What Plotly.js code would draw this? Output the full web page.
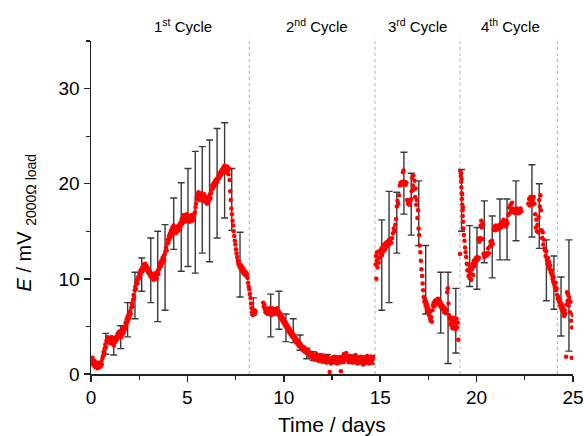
<!DOCTYPE html>
<html>
<head>
<meta charset="utf-8">
<script src="https://cdn.plot.ly/plotly-3.0.1.min.js"></script>
<style>html,body{margin:0;padding:0;background:#fff;}#chart{width:584px;height:436px;}</style>
</head>
<body>
<div id="chart"></div>
<script>
// ---- Data ----
const cycle1T = [0.02,0.05,0.08,0.11,0.14,0.17,0.20,0.23,0.26,0.29,0.32,0.35,0.38,0.41,0.44,0.47,0.50,0.53,0.56,0.59,0.62,0.65,0.68,0.71,0.74,0.77,0.80,0.83,0.86,0.89,0.92,0.95,0.98,1.01,1.04,1.07,1.10,1.13,1.16,1.19,1.22,1.25,1.28,1.31,1.34,1.37,1.40,1.43,1.46,1.49,1.52,1.55,1.58,1.61,1.64,1.67,1.70,1.73,1.76,1.79,1.82,1.85,1.88,1.91,1.94,1.97,2.00,2.03,2.06,2.09,2.12,2.15,2.18,2.21,2.24,2.27,2.30,2.33,2.36,2.39,2.42,2.45,2.48,2.51,2.54,2.57,2.60,2.63,2.66,2.69,2.72,2.75,2.78,2.81,2.84,2.87,2.90,2.93,2.96,2.99,3.02,3.05,3.08,3.11,3.14,3.17,3.20,3.23,3.26,3.29,3.32,3.35,3.38,3.41,3.44,3.47,3.50,3.53,3.56,3.59,3.62,3.65,3.68,3.71,3.74,3.77,3.80,3.83,3.86,3.89,3.92,3.95,3.98,4.01,4.04,4.07,4.10,4.13,4.16,4.19,4.22,4.25,4.28,4.31,4.34,4.37,4.40,4.43,4.46,4.49,4.52,4.55,4.58,4.61,4.64,4.67,4.70,4.73,4.76,4.79,4.82,4.85,4.88,4.91,4.94,4.97,5.00,5.03,5.06,5.09,5.12,5.15,5.18,5.21,5.24,5.27,5.30,5.33,5.36,5.39,5.42,5.45,5.48,5.51,5.54,5.57,5.60,5.63,5.66,5.69,5.72,5.75,5.78,5.81,5.84,5.87,5.90,5.93,5.96,5.99,6.02,6.05,6.08,6.11,6.14,6.17,6.20,6.23,6.26,6.29,6.32,6.35,6.38,6.41,6.44,6.47,6.50,6.53,6.56,6.59,6.62,6.65,6.68,6.71,6.74,6.77,6.80,6.83,6.86,6.89,6.92,6.95,6.98,7.01,7.04,7.07,7.10,7.13,7.16,7.19,7.22,7.25,7.28,7.31,7.34,7.37,7.40,7.43,7.46,7.49,7.52,7.55,7.58,7.61,7.64,7.67,7.70,7.73,7.76,7.79,7.82,7.85,7.88,7.91,7.94,7.97,8.00,8.03,8.06,8.09,8.12,8.15,8.18,8.21,8.24,8.27,8.30,8.33,8.36,8.39,8.42,8.45,8.48,8.51,8.54];
const cycle1E = [1.5,1.1,1.7,1.2,0.9,1.4,1.0,0.7,1.1,0.8,1.2,0.6,0.9,1.0,0.7,1.1,0.8,1.3,1.0,1.6,1.9,2.3,2.0,2.7,3.1,2.8,3.5,3.9,3.4,3.7,3.3,3.8,3.5,3.2,3.6,3.9,3.4,3.7,3.3,3.0,3.5,3.8,3.4,3.9,3.6,4.2,3.8,4.4,4.0,4.5,4.1,4.3,3.9,4.6,4.2,4.8,4.4,5.0,4.7,5.4,5.0,5.8,5.4,6.1,5.7,6.4,6.0,6.6,6.3,7.0,7.4,7.1,7.8,8.3,8.0,8.8,9.2,8.9,9.6,9.9,9.5,10.2,10.0,10.6,10.3,10.9,10.6,11.1,10.8,11.3,11.0,11.5,11.2,11.6,11.1,11.4,10.9,11.2,10.7,11.0,10.5,10.8,10.3,10.6,10.1,10.4,10.0,10.3,9.9,10.2,10.6,10.1,10.4,10.0,10.6,10.9,10.5,11.0,11.4,11.7,11.3,11.9,11.6,12.2,11.8,12.4,12.0,12.6,12.9,13.3,13.0,13.7,14.1,13.8,14.5,14.2,14.8,14.4,15.1,14.7,15.4,15.0,15.6,15.2,14.9,15.3,14.8,15.1,15.5,15.0,15.4,15.1,15.7,15.3,15.9,15.6,16.2,15.8,16.5,16.1,16.7,16.3,16.0,16.6,16.2,16.8,16.4,16.1,16.6,16.3,16.0,16.5,16.2,16.7,16.4,16.1,16.6,16.3,16.8,17.0,17.5,17.9,18.4,18.9,18.5,19.1,18.7,18.3,18.8,18.4,19.0,18.6,18.2,18.7,18.3,18.9,18.5,18.1,18.6,18.2,17.9,18.4,18.0,18.6,18.3,18.9,18.5,19.0,19.4,19.8,19.5,20.0,19.7,20.2,19.9,20.4,20.1,20.5,20.2,20.6,20.9,20.6,21.1,20.8,21.3,21.0,21.5,21.2,21.7,21.4,21.9,21.5,21.2,21.7,21.3,21.8,21.4,21.0,21.6,20.4,19.2,18.3,17.4,16.8,16.1,15.6,15.0,14.5,14.0,13.6,13.1,12.7,12.3,11.9,11.6,11.8,11.3,11.5,11.1,11.4,10.9,11.2,10.7,11.0,10.5,10.8,10.4,10.7,10.3,10.5,10.1,9.6,9.2,8.9,8.4,8.0,7.4,6.9,6.5,6.2,6.6,6.3,6.7,6.4,6.6];

const cycle2T = [8.93,8.96,8.99,9.02,9.05,9.08,9.11,9.14,9.17,9.20,9.23,9.26,9.29,9.32,9.35,9.38,9.41,9.44,9.47,9.50,9.53,9.56,9.59,9.62,9.65,9.68,9.71,9.74,9.77,9.80,9.83,9.86,9.89,9.92,9.95,9.98,10.01,10.04,10.07,10.10,10.13,10.16,10.19,10.22,10.25,10.28,10.31,10.34,10.37,10.40,10.43,10.46,10.49,10.52,10.55,10.58,10.61,10.64,10.67,10.70,10.73,10.76,10.79,10.82,10.85,10.88,10.91,10.94,10.97,11.00,11.03,11.06,11.09,11.12,11.15,11.18,11.21,11.24,11.27,11.30,11.33,11.36,11.39,11.42,11.45,11.48,11.51,11.54,11.57,11.60,11.64,11.68,11.72,11.76,11.80,11.84,11.88,11.92,11.96,12.00,12.04,12.08,12.12,12.16,12.20,12.24,12.28,12.32,12.38,12.40,12.44,12.48,12.52,12.56,12.60,12.64,12.68,12.72,12.76,12.80,12.84,12.88,12.92,12.96,13.00,13.04,13.08,13.12,13.16,13.20,13.24,13.28,13.32,13.36,13.40,13.44,13.48,13.52,13.56,13.60,13.64,13.68,13.72,13.76,13.80,13.84,13.88,13.92,13.96,14.00,14.04,14.08,14.12,14.16,14.20,14.24,14.28,14.32,14.36,14.40,14.44,14.48,14.52,14.56,14.60,14.63];
const cycle2E = [7.5,7.1,7.3,6.8,6.5,6.9,6.4,6.7,6.3,6.8,6.5,6.9,6.4,6.7,6.2,6.6,6.9,6.5,6.8,6.3,6.7,6.4,6.8,6.5,6.9,6.3,6.6,6.2,6.5,6.0,6.3,5.8,6.1,5.6,5.9,5.4,5.7,5.2,5.5,5.0,5.3,4.8,5.1,4.6,4.9,4.4,4.7,4.2,4.5,4.0,4.3,3.9,4.2,3.7,4.0,3.6,3.8,3.3,3.6,3.2,3.5,3.0,3.3,2.9,3.2,2.8,3.0,2.6,2.9,2.5,2.8,2.4,2.7,2.3,2.6,2.2,2.5,2.1,2.4,2.0,2.3,1.9,2.2,1.8,2.1,1.7,2.0,1.6,1.9,1.5,1.8,2.1,1.6,1.9,1.4,1.7,2.0,1.5,1.8,1.3,1.6,1.9,1.4,1.7,1.2,1.5,1.8,1.3,0.2,1.6,1.1,1.4,1.7,1.2,1.5,1.8,1.3,1.6,1.1,1.4,1.7,1.2,1.5,0.3,1.8,1.3,1.6,2.1,1.4,1.7,2.2,1.5,1.8,1.3,1.6,1.9,1.4,1.7,1.2,1.5,1.8,1.3,2.0,1.6,1.1,1.4,1.7,1.2,1.5,1.8,1.3,1.6,1.0,1.4,1.7,1.2,1.5,1.9,1.3,1.6,1.1,1.4,1.8,1.2,1.5,1.7];

const cycle3T = [14.76,14.78,14.80,14.82,14.84,14.86,14.89,14.92,14.95,14.98,15.02,15.06,15.10,15.14,15.18,15.22,15.26,15.30,15.34,15.38,15.42,15.46,15.50,15.54,15.58,15.62,15.66,15.70,15.74,15.78,15.82,15.86,15.90,15.94,15.98,16.02,16.06,16.10,16.14,16.18,16.21,16.24,16.28,16.32,16.36,16.40,16.44,16.48,16.52,16.56,16.60,16.63,16.66,16.69,16.72,16.75,16.78,16.81,16.84,16.87,16.90,16.93,16.96,16.99,17.02,17.05,17.08,17.11,17.14,17.17,17.20,17.23,17.26,17.29,17.32,17.35,17.38,17.41,17.44,17.47,17.50,17.53,17.56,17.59,17.62,17.65,17.68,17.71,17.74,17.77,17.80,17.84,17.88,17.92,17.96,18.00,18.04,18.08,18.12,18.16,18.20,18.24,18.28,18.32,18.36,18.40,18.44,18.48,18.51,18.54,18.57,18.60,18.63,18.66,18.69,18.72,18.75,18.78,18.81,18.84,18.87,18.90,18.93,18.96,18.99,19.02,19.05];
const cycle3E = [11.5,12.4,10.0,11.9,12.8,11.2,12.3,11.7,12.9,12.2,12.7,13.2,12.5,13.5,12.9,13.6,13.1,13.8,13.4,13.9,13.5,14.1,13.7,14.2,13.8,14.3,14.8,15.3,15.0,15.7,16.3,17.6,18.2,17.9,18.8,19.8,20.1,19.9,20.2,21.2,21.4,20.0,20.2,19.9,20.1,18.3,17.9,18.2,17.8,18.1,18.4,19.2,20.6,19.8,20.9,19.4,20.3,18.6,19.5,17.8,18.3,16.4,17.2,15.3,14.6,13.5,12.8,11.9,11.0,10.3,9.5,8.8,8.1,7.6,7.9,7.2,7.6,6.9,7.3,6.6,6.9,6.2,6.5,5.8,5.6,6.0,5.5,6.7,7.2,7.5,7.1,7.7,7.3,7.8,7.4,7.9,7.5,7.2,7.6,7.0,7.3,6.8,7.1,6.5,6.9,6.4,6.7,8.6,9.0,7.4,6.2,5.8,5.3,5.9,5.1,5.6,4.8,5.4,5.9,5.0,5.5,4.7,5.3,5.8,4.9,5.4,3.6];

const cycle4T = [19.14,19.16,19.18,19.19,19.20,19.21,19.22,19.23,19.24,19.25,19.26,19.27,19.28,19.29,19.30,19.31,19.34,19.37,19.40,19.43,19.46,19.49,19.52,19.55,19.58,19.61,19.64,19.67,19.70,19.73,19.76,19.79,19.82,19.85,19.88,19.91,19.94,19.97,20.00,20.03,20.06,20.09,20.12,20.15,20.18,20.21,20.24,20.27,20.30,20.33,20.36,20.40,20.44,20.48,20.52,20.56,20.60,20.64,20.68,20.72,20.76,20.80,20.84,20.88,20.92,20.96,21.00,21.04,21.08,21.12,21.16,21.20,21.24,21.28,21.32,21.36,21.40,21.44,21.48,21.52,21.56,21.60,21.64,21.68,21.72,21.76,21.80,21.84,21.88,21.92,21.96,22.00,22.04,22.08,22.12,22.16,22.20,22.24,22.28,22.32,22.68,22.72,22.76,22.80,22.84,22.88,22.92,22.96,23.00,23.04,23.07,23.10,23.13,23.16,23.19,23.22,23.25,23.28,23.31,23.34,23.37,23.40,23.43,23.46,23.49,23.52,23.55,23.58,23.61,23.64,23.67,23.70,23.73,23.76,23.79,23.82,23.85,23.88,23.91,23.94,23.97,24.00,24.03,24.06,24.09,24.12,24.15,24.18,24.21,24.24,24.27,24.30,24.33,24.36,24.39,24.42,24.45,24.48,24.51,24.54,24.57,24.60,24.64,24.66,24.69,24.72,24.75,24.78,24.81,24.84,24.87,24.90,24.93,24.95,24.98];
const cycle4E = [12.6,21.3,20.8,21.1,20.2,19.6,20.5,19.0,18.4,18.9,17.8,17.2,16.6,17.5,16.0,15.3,14.6,14.0,13.3,12.8,12.3,11.6,10.9,11.5,10.3,10.8,10.1,11.2,10.6,9.9,11.0,11.6,10.4,11.9,11.3,12.0,11.7,12.2,11.9,12.3,12.0,14.2,12.2,13.9,14.3,15.6,16.1,15.4,14.2,15.8,12.6,12.3,12.6,12.4,12.7,12.5,13.2,12.7,13.4,13.9,13.5,14.0,13.7,15.2,15.5,15.1,15.6,15.3,15.5,15.2,15.6,15.4,15.8,15.4,16.0,15.6,16.2,15.7,15.9,15.5,16.1,15.8,16.7,17.5,16.9,17.8,17.2,18.0,17.4,17.0,17.3,16.9,17.2,17.4,17.0,17.3,16.9,17.2,17.4,17.1,17.9,18.4,17.7,18.6,18.1,17.8,18.3,18.6,17.9,16.8,15.4,16.2,15.0,15.7,14.9,16.5,18.3,17.6,18.8,17.2,15.1,14.3,14.9,13.6,14.1,13.2,13.0,12.4,12.9,12.0,11.6,12.2,11.3,11.8,11.0,11.4,10.7,10.9,10.4,10.0,9.7,10.2,9.4,9.1,9.6,8.8,9.0,8.3,7.9,8.1,7.6,7.8,7.2,7.5,6.9,7.3,6.7,7.0,6.4,6.1,6.7,6.3,1.8,7.3,8.6,7.7,8.3,7.2,8.0,6.5,7.6,5.6,1.7,4.9,6.2];

// Error bars (mean and half-range)
const errT = [0.77,1.18,1.54,1.90,2.28,2.63,3.10,3.46,3.84,4.29,4.68,5.03,5.41,5.77,6.15,6.54,6.93,7.30,7.73,8.42,
  9.32,9.75,10.11,10.49,10.84,11.19,11.53,11.88,12.26,12.66,13.00,13.43,13.78,14.16,14.56,
  15.08,15.46,15.86,16.23,16.61,17.00,17.36,18.14,18.52,18.92,
  19.22,19.64,20.02,20.40,20.81,21.21,21.58,22.04,22.87,23.25,23.62,24.01,24.38,24.79];
const errMean = [3.17,2.86,3.87,5.70,8.25,10.45,10.90,10.25,11.20,15.80,15.45,16.45,17.00,18.30,18.20,20.05,21.40,18.35,11.50,7.10,
  6.15,6.70,4.85,4.55,3.30,2.15,1.90,1.70,1.60,1.50,1.50,1.55,1.50,1.45,1.50,
  11.45,13.35,15.90,20.05,17.85,16.90,9.90,7.50,5.90,5.60,
  18.25,12.40,12.15,14.95,13.35,15.20,15.20,17.15,18.20,16.60,10.90,9.60,7.10,8.25];
const errHalf = [1.10,0.86,1.20,1.80,2.45,1.75,3.40,4.75,4.50,2.70,4.65,5.15,6.40,5.60,6.40,5.75,5.00,3.25,3.40,0.90,
  2.25,2.00,1.45,1.25,0.80,0.55,0.45,0.40,0.45,0.40,0.40,0.45,0.40,0.45,0.45,
  4.75,5.85,3.20,3.25,3.25,3.40,3.60,3.20,4.80,3.40,
  3.25,3.20,3.25,3.25,3.25,3.20,3.20,3.15,3.80,3.40,3.20,2.80,3.10,5.85];

// Cycle boundaries and labels
const cycleBounds = [8.21, 14.73, 19.14, 24.19];
const cycleLabelX = [4.75, 11.7, 16.93, 21.76];
const cycleLabels = ["1<sup>st</sup> Cycle", "2<sup>nd</sup> Cycle", "3<sup>rd</sup> Cycle", "4<sup>th</sup> Cycle"];
const xTicks = [0, 5, 10, 15, 20, 25];
const yTicks = [0, 10, 20, 30];

// ---- Build traces ----
const FONT = '"Liberation Sans", Arial, Helvetica, sans-serif';
const dotsT = cycle1T.concat(cycle2T, cycle3T, cycle4T);
const dotsE = cycle1E.concat(cycle2E, cycle3E, cycle4E);

const traces = [
  {
    x: errT, y: errMean, type: 'scatter', mode: 'markers',
    marker: {size: 1, color: 'rgba(0,0,0,0)'},
    error_y: {type: 'data', array: errHalf, visible: true, color: '#3a3a3a', thickness: 1.4, width: 3.5},
    hoverinfo: 'skip', showlegend: false, cliponaxis: false
  },
  {
    x: dotsT, y: dotsE, type: 'scatter', mode: 'markers',
    marker: {size: 4.5, color: '#ff0000', line: {width: 0}},
    showlegend: false
  }
];

const shapes = cycleBounds.map(b => ({
  type: 'line', xref: 'x', yref: 'paper', x0: b, x1: b, y0: 0, y1: 1.01,
  line: {color: '#a8a8a8', width: 0.9, dash: 'dot'}, layer: 'below'
}));

const annotations = cycleLabels.map((t, i) => ({
  text: t, x: cycleLabelX[i], xref: 'x', y: 1.048, yref: 'paper',
  xanchor: 'center', yanchor: 'middle', showarrow: false,
  font: {family: FONT, size: 15, color: '#000'}
}));
annotations.push({
  text: '<i>E</i> / mV <sub>2000Ω load</sub>', xref: 'paper', yref: 'paper',
  x: -0.135, y: 0.455, xanchor: 'center', yanchor: 'middle', textangle: -90,
  showarrow: false, font: {family: FONT, size: 20, color: '#000'}
});
annotations.push({
  text: 'Time / days', xref: 'paper', yref: 'paper',
  x: 0.5, y: -0.152, xanchor: 'center', yanchor: 'middle',
  showarrow: false, font: {family: FONT, size: 21, color: '#000'}
});

const layout = {
  width: 584, height: 436,
  margin: {l: 91, r: 11, t: 41, b: 62},
  paper_bgcolor: '#fff', plot_bgcolor: '#fff',
  font: {family: FONT, color: '#000'},
  showlegend: false,
  xaxis: {
    range: [0, 25], tickvals: xTicks, ticktext: xTicks.map(String),
    showgrid: false, zeroline: false, showline: true, linecolor: '#222', linewidth: 1.5,
    ticks: 'outside', ticklen: 6, tickwidth: 1.5, tickcolor: '#222',
    tickfont: {family: FONT, size: 19, color: '#000'},
    minor: {dtick: 2.5, tick0: 0, ticks: 'outside', ticklen: 4, tickwidth: 1.2, tickcolor: '#222', showgrid: false},
    fixedrange: true
  },
  yaxis: {
    range: [0, 35], tickvals: yTicks, ticktext: yTicks.map(String),
    showgrid: false, zeroline: false, showline: true, linecolor: '#222', linewidth: 1.5,
    ticks: 'outside', ticklen: 6, tickwidth: 1.5, tickcolor: '#222',
    tickfont: {family: FONT, size: 19, color: '#000'},
    minor: {dtick: 5, tick0: 0, ticks: 'outside', ticklen: 4, tickwidth: 1.2, tickcolor: '#222', showgrid: false},
    fixedrange: true
  },
  shapes: shapes,
  annotations: annotations
};

Plotly.newPlot('chart', traces, layout, {displayModeBar: false, staticPlot: true});
</script>
</body>
</html>
